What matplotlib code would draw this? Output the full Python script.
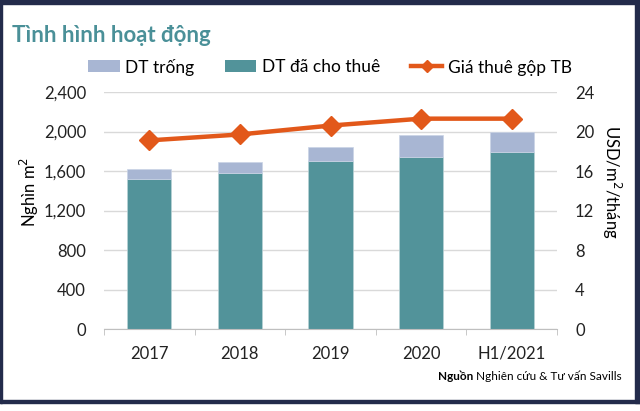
import matplotlib
matplotlib.use("Agg")
import matplotlib.pyplot as plt
from matplotlib.patches import Patch, Rectangle
from matplotlib.lines import Line2D
from matplotlib.ticker import FuncFormatter, FixedLocator
import numpy as np

categories = ["2017", "2018", "2019", "2020", "H1/2021"]
leased = [1516, 1577, 1704, 1742, 1796]
total = [1623, 1688, 1846, 1961, 1998]
vacant = [t - l for t, l in zip(total, leased)]
rent = [19.1, 19.7, 20.6, 21.3, 21.3]

left_ticks = [0, 400, 800, 1200, 1600, 2000, 2400]
right_ticks = [0, 4, 8, 12, 16, 20, 24]

C_LEASED = "#52939a"
C_VACANT = "#a8b6d3"
C_RENT = "#e2581a"
C_TITLE = "#4a9098"
C_FRAME = "#232b4b"

plt.rcParams['font.family'] = ['Lato', 'DejaVu Sans']

W, H = 640, 411
fig = plt.figure(figsize=(W / 100, H / 100), dpi=100)
fig.patch.set_facecolor("white")

ax = fig.add_axes([104 / W, 1 - 329 / H, (557 - 104) / W, (329 - 92) / H])
x = np.arange(len(categories))
bw = 0.49
ax.bar(x, leased, bw, color=C_LEASED, edgecolor="#b9d3d6", linewidth=0.5, zorder=2)
ax.bar(x, vacant, bw, bottom=leased, color=C_VACANT, edgecolor="#c9d3e6", linewidth=0.5, zorder=2)
ax.set_xlim(-0.5, len(categories) - 0.5)
ax.set_ylim(0, 2400)
ax.set_yticks(left_ticks)
ax.yaxis.set_major_formatter(FuncFormatter(lambda v, p: f"{int(v):,}"))
ax.grid(axis="y", color="#d9d9d9", linewidth=1, zorder=0)
ax.set_axisbelow(True)
for s in ["top", "left", "right"]:
    ax.spines[s].set_visible(False)
ax.spines["bottom"].set_color("#bfbfbf")
ax.set_xticks(x)
ax.set_xticklabels(categories)
ax.xaxis.set_minor_locator(FixedLocator(np.arange(-0.5, len(categories), 1.0)))
ax.tick_params(axis="x", which="major", length=0, pad=12, labelsize=12, colors="#222222")
ax.tick_params(axis="x", which="minor", length=4, color="#bfbfbf")
ax.tick_params(axis="y", length=0, pad=13, labelsize=12, colors="#222222")

ax2 = ax.twinx()
ax2.plot(x, rent, color=C_RENT, lw=3.2, marker="D", markersize=10, zorder=5)
ax2.set_ylim(0, 24)
ax2.set_yticks(right_ticks)
for s in ["top", "left", "right", "bottom"]:
    ax2.spines[s].set_visible(False)
ax2.tick_params(axis="y", length=0, pad=13, labelsize=12, colors="#222222")

fig.text(29 / W, 1 - 192 / H, "Nghìn m$^2$", rotation=90, ha="center", va="center", fontsize=12)
fig.text(612 / W, 1 - 182 / H, "USD/m$^2$/tháng", rotation=270, ha="center", va="center", fontsize=12)

fig.text(12 / W, 1 - 35 / H, "Tình hình hoạt động", ha="left", va="center", fontsize=16,
         fontweight="bold", color=C_TITLE)

handles = [Patch(facecolor=C_VACANT), Patch(facecolor=C_LEASED),
           Line2D([0], [0], color=C_RENT, lw=3.2, marker="D", markersize=6)]
labels = ["DT trống", "DT đã cho thuê", "Giá thuê gộp TB"]
fig.legend(handles, labels, loc="center", bbox_to_anchor=(330 / W, 1 - 67 / H), ncol=3,
           frameon=False, fontsize=12.5, handlelength=1.8, handleheight=0.7,
           columnspacing=1.8, handletextpad=0.3)

t1 = fig.text(622 / W, 1 - 376 / H, "Nghiên cứu & Tư vấn Savills", ha="right", va="center", fontsize=8.5)
fig.canvas.draw()
bb = t1.get_window_extent()
fig.text((bb.x0 - 3) / W, 1 - 376 / H, "Nguồn", ha="right", va="center", fontsize=8.5, fontweight="bold")

def frame(x0, y0, x1, y1):
    fig.patches.append(Rectangle((x0 / W, 1 - y1 / H), (x1 - x0) / W, (y1 - y0) / H,
                                 transform=fig.transFigure, color=C_FRAME, zorder=10))
frame(0, 0, 640, 4)
frame(0, 0, 2, 403)
frame(635, 0, 640, 403)
frame(0, 400, 640, 403)

fig.savefig("out.png", dpi=100)
